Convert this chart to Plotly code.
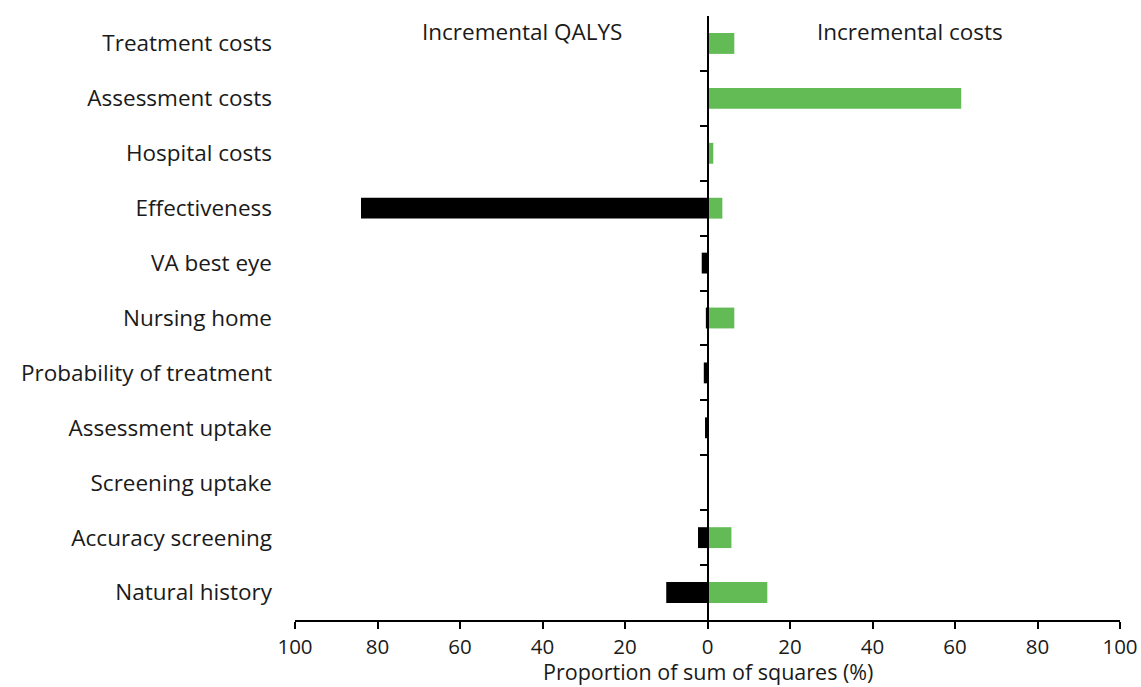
import plotly.graph_objects as go

# Parameters, top to bottom
parameters = [
    "Treatment costs",
    "Assessment costs",
    "Hospital costs",
    "Effectiveness",
    "VA best eye",
    "Nursing home",
    "Probability of treatment",
    "Assessment uptake",
    "Screening uptake",
    "Accuracy screening",
    "Natural history",
]

# Proportion of sum of squares (%) for each outcome
qaly_share = [0, 0, 0, 84, 1.4, 0.4, 0.9, 0.6, 0, 2.3, 10]
cost_share = [6.5, 61.5, 1.4, 3.6, 0, 6.5, 0, 0, 0, 5.8, 14.5]

tick_values = [-100, -80, -60, -40, -20, 0, 20, 40, 60, 80, 100]
tick_labels = [str(abs(v)) for v in tick_values]

FONT = "Open Sans"
SIZE = 22.5
GREEN = "#62bb55"

fig = go.Figure()

fig.add_trace(go.Bar(
    y=parameters, x=[-v for v in qaly_share], orientation="h",
    marker=dict(color="black", line=dict(width=0)),
    width=0.38, name="Incremental QALYS", showlegend=False,
))
fig.add_trace(go.Bar(
    y=parameters, x=cost_share, orientation="h",
    marker=dict(color=GREEN, line=dict(width=0)),
    width=0.38, name="Incremental costs", showlegend=False,
))

# Vertical axis at zero with ticks between parameters
fig.add_trace(go.Scatter(x=[None], y=[None], yaxis="y2", showlegend=False))

n = len(parameters)
fig.update_layout(
    width=1141, height=687,
    margin=dict(l=295, r=21, t=16, b=67),
    paper_bgcolor="white", plot_bgcolor="white",
    barmode="overlay",
    font=dict(family=FONT, size=SIZE, color="#1a1a1a"),
    xaxis=dict(
        range=[-100, 100], tickvals=tick_values, ticktext=tick_labels,
        showgrid=False, zeroline=False, automargin=False,
        showline=True, linecolor="black", linewidth=2,
        ticks="outside", ticklen=7, tickwidth=2, tickcolor="black",
        ticklabelstandoff=0,
        tickfont=dict(size=20.5),
    ),
    yaxis=dict(
        type="category", categoryarray=parameters,
        range=[n - 0.5, -0.5], automargin=False,
        showgrid=False, zeroline=False, showline=False, ticks="",
        ticklabelstandoff=22, tickfont=dict(size=SIZE),
    ),
    yaxis2=dict(
        overlaying="y", anchor="free", position=0.5, side="left",
        range=[n - 0.5, -0.5], automargin=False,
        tickvals=[i + 0.5 for i in range(n - 1)], showticklabels=False,
        showline=True, linecolor="black", linewidth=2,
        ticks="outside", ticklen=7, tickwidth=2, tickcolor="black",
        showgrid=False, zeroline=False,
    ),
    annotations=[
        dict(text="Incremental QALYS", x=-45, y=1, xref="x", yref="paper",
             yanchor="top", yshift=2, showarrow=False, font=dict(size=SIZE)),
        dict(text="Incremental costs", x=49, y=1, xref="x", yref="paper",
             yanchor="top", yshift=2, showarrow=False, font=dict(size=SIZE)),
        dict(text="Proportion of sum of squares (%)", x=0.5, y=0,
             xref="paper", yref="paper", yanchor="middle", yshift=-51,
             showarrow=False, font=dict(size=21.5)),
    ],
)

fig.write_html("out.html")
